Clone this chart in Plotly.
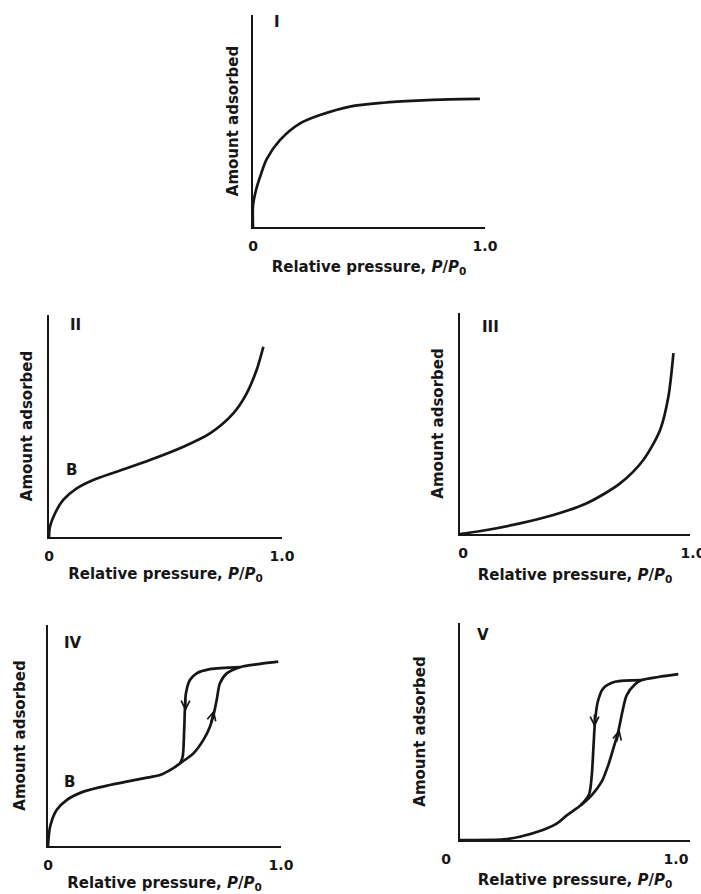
import plotly.graph_objects as go

W, H = 701, 894
INK = "#161616"
FONT = "DejaVu Sans"

# ---------------- isotherm data: relative pressure P/P0 vs amount adsorbed ----------------
# Type I
t1_p = [0.0, 0.0, 0.012, 0.03, 0.059, 0.116, 0.203, 0.289, 0.418, 0.562, 0.705, 0.849, 0.978]
t1_n = [0.0, 0.10, 0.17, 0.235, 0.32, 0.41, 0.489, 0.528, 0.568, 0.586, 0.596, 0.602, 0.604]

# Type II
t2_p = [0.0, 0.004, 0.026, 0.061, 0.119, 0.19, 0.29, 0.433, 0.577, 0.691, 0.791, 0.848, 0.891, 0.92]
t2_n = [0.0, 0.046, 0.107, 0.167, 0.219, 0.257, 0.294, 0.347, 0.407, 0.467, 0.557, 0.646, 0.752, 0.857]

# Type III
t3_p = [0.0, 0.116, 0.261, 0.406, 0.551, 0.696, 0.797, 0.87, 0.906, 0.928]
t3_n = [0.0, 0.018, 0.048, 0.086, 0.139, 0.229, 0.335, 0.471, 0.621, 0.818]

# Type IV: adsorption and desorption branches
t4_ads_p = [0.0, 0.009, 0.037, 0.08, 0.152, 0.266, 0.409, 0.481, 0.538, 0.567, 0.624, 0.667,
            0.695, 0.712, 0.724, 0.738, 0.767, 0.824, 0.91, 0.988]
t4_ads_n = [0.0, 0.087, 0.163, 0.208, 0.246, 0.276, 0.306, 0.321, 0.352, 0.374, 0.419, 0.48,
            0.54, 0.6, 0.661, 0.736, 0.781, 0.809, 0.824, 0.834]
t4_des_p = [0.824, 0.695, 0.638, 0.609, 0.592, 0.588, 0.584, 0.578, 0.567]
t4_des_n = [0.809, 0.8, 0.781, 0.751, 0.691, 0.63, 0.51, 0.404, 0.374]

# Type V: adsorption and desorption branches
t5_ads_p = [0.0, 0.19, 0.26, 0.36, 0.42, 0.46, 0.525, 0.573, 0.616, 0.645, 0.667, 0.688,
            0.706, 0.725, 0.761, 0.79, 0.862, 0.949]
t5_ads_n = [0.0, 0.003, 0.015, 0.046, 0.075, 0.11, 0.16, 0.207, 0.269, 0.346, 0.423, 0.499,
            0.591, 0.668, 0.718, 0.737, 0.751, 0.764]
t5_des_p = [0.79, 0.674, 0.623, 0.599, 0.587, 0.58, 0.573, 0.561, 0.525]
t5_des_n = [0.737, 0.729, 0.699, 0.637, 0.545, 0.423, 0.3, 0.21, 0.16]

# direction arrows on the hysteresis loops: (panel, tip P/P0, tip amount, shaft dx, shaft dy in px)
arrow_panel = [4, 4, 5, 5]
arrow_p = [0.590, 0.713, 0.585, 0.694]
arrow_n = [0.610, 0.615, 0.520, 0.510]
arrow_dx = [0, -3.5, 0, -3.4]
arrow_dy = [-14, 13.6, -14, 13.6]

# point B (monolayer completion) on types II and IV
b2_p, b2_n = 0.097, 0.302
b4_p, b4_n = 0.094, 0.29

panel_names = ["I", "II", "III", "IV", "V"]
tick_vals = [0, 1]
tick_text = ["<b>0</b>", "<b>1.0</b>"]
x_title = "Relative pressure, <i>P</i>/<i>P</i><sub>0</sub>"
y_title = "Amount adsorbed"

# ---------------- panel frames in page pixels: left, right, top, bottom ----------------
frames = [
    (253, 485, 15, 227),
    (49, 282, 315, 537),
    (460, 690, 313, 534),
    (48, 281, 625, 846),
    (460, 690, 623, 840),
]
# title standoffs, panel-label offsets and tick-label shifts for each panel
xtitle_standoff = [9, 6, 10, 6, 9]
ytitle_standoff = [9, 11, 11, 17, 29]
label_off = [(19, 7), (19, 10), (20, 14), (14, 18), (15, 12)]
ticklabel_shift = [0, 0, 3, 0, -14]


def fx(x):
    return x / W


def fy(y):
    return 1 - y / H


fig = go.Figure()

curves = [
    (1, t1_p, t1_n),
    (2, t2_p, t2_n),
    (3, t3_p, t3_n),
    (4, t4_ads_p, t4_ads_n),
    (4, t4_des_p, t4_des_n),
    (5, t5_ads_p, t5_ads_n),
    (5, t5_des_p, t5_des_n),
]
for k, xs, ys in curves:
    sfx = "" if k == 1 else str(k)
    fig.add_trace(go.Scatter(
        x=xs, y=ys, mode="lines", xaxis="x" + sfx, yaxis="y" + sfx,
        line=dict(color=INK, width=2.7, shape="spline", smoothing=0.8),
        cliponaxis=False, showlegend=False, hoverinfo="skip",
    ))

layout = dict(
    width=W, height=H, margin=dict(l=0, r=0, t=0, b=0, autoexpand=False),
    paper_bgcolor="white", plot_bgcolor="rgba(0,0,0,0)",
    font=dict(family=FONT, color=INK, size=14),
    showlegend=False,
)

bold = dict(family=FONT, size=15, color=INK, weight="bold")
annotations = []
for i, (l, r, t, b) in enumerate(frames):
    k = i + 1
    sfx = "" if k == 1 else str(k)
    layout["xaxis" + sfx] = dict(
        domain=[fx(l), fx(r)], range=[0, 1], anchor="y" + sfx, automargin=False,
        showline=True, linecolor=INK, linewidth=2,
        showgrid=False, zeroline=False,
        ticks="inside", ticklen=12, tickwidth=2, tickcolor=INK,
        tickvals=tick_vals, ticktext=tick_text,
        tickfont=dict(family=FONT, size=14, color=INK),
        ticklabelstandoff=5, ticklabelshift=ticklabel_shift[i],
        ticklabeloverflow="allow",
        title=dict(text=x_title, font=bold, standoff=xtitle_standoff[i]),
        fixedrange=True,
    )
    layout["yaxis" + sfx] = dict(
        domain=[fy(b), fy(t)], range=[0, 1], anchor="x" + sfx, automargin=False,
        showline=True, linecolor=INK, linewidth=2,
        showgrid=False, zeroline=False, ticks="", showticklabels=False,
        title=dict(text=y_title, font=bold, standoff=ytitle_standoff[i]),
        fixedrange=True,
    )
    # panel label
    dx, dy = label_off[i]
    annotations.append(dict(
        text=panel_names[i], xref="paper", yref="paper",
        x=fx(l + dx), y=fy(t + dy), xanchor="left", yanchor="middle",
        showarrow=False, font=bold,
    ))

for k, bx, by in [(2, b2_p, b2_n), (4, b4_p, b4_n)]:
    annotations.append(dict(
        text="B", xref="x%d" % k, yref="y%d" % k, x=bx, y=by,
        xanchor="center", yanchor="middle", showarrow=False, font=bold,
    ))

# open chevron arrowheads along the loop branches
for k, ap, an, adx, ady in zip(arrow_panel, arrow_p, arrow_n, arrow_dx, arrow_dy):
    annotations.append(dict(
        text="", xref="x%d" % k, yref="y%d" % k, x=ap, y=an,
        ax=adx, ay=ady, showarrow=True, arrowhead=5, arrowsize=0.85,
        arrowwidth=2, arrowcolor=INK, standoff=0,
    ))

layout["annotations"] = annotations
fig.update_layout(**layout)
fig.write_html("out.html")
